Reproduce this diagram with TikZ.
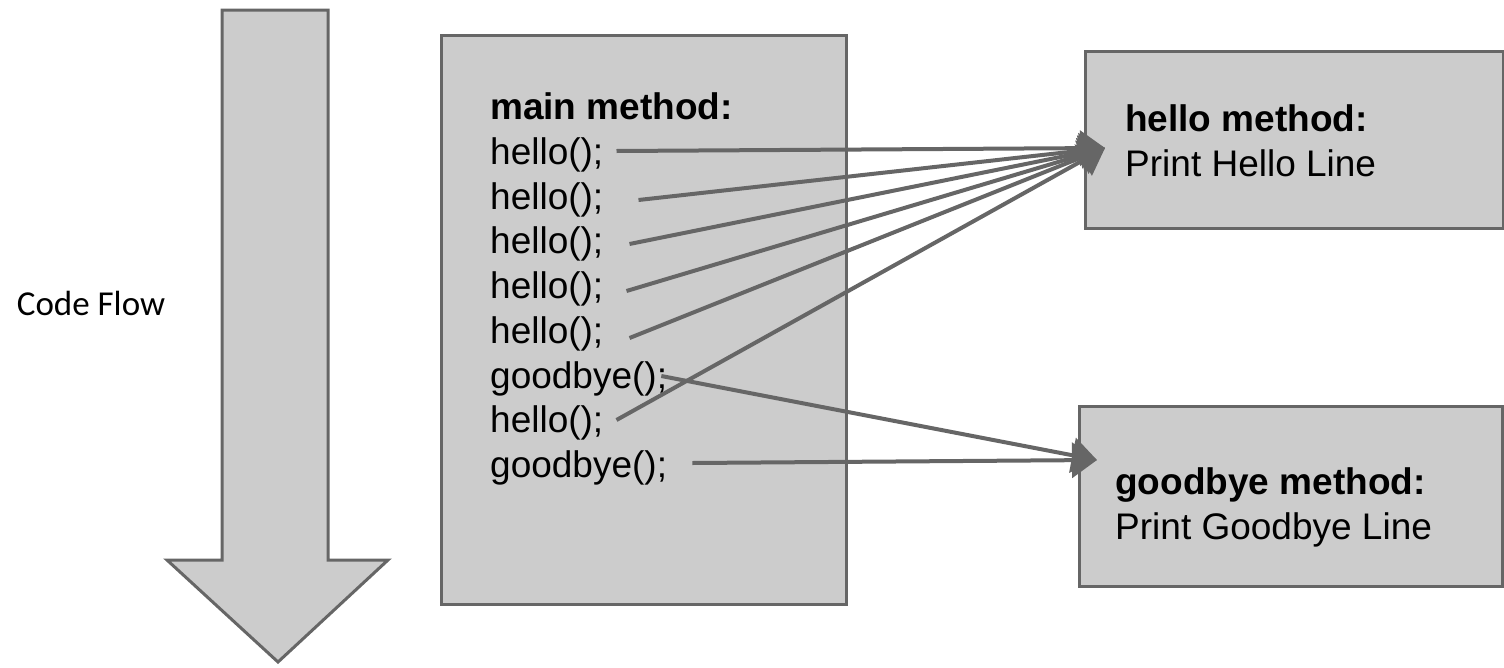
\documentclass[tikz,border=0pt]{standalone}
\usepackage{fontspec}
\setmainfont{Liberation Sans}
\newfontfamily\calibri{Carlito}
\usetikzlibrary{arrows.meta,positioning}

\definecolor{boxfill}{HTML}{CCCCCC}
\definecolor{boxline}{HTML}{666666}

\tikzset{
  box/.style={draw=boxline, fill=boxfill, line width=3pt},
  code/.style={anchor=base west, inner sep=0pt, font=\fontsize{37}{44}\selectfont},
  head/.style={code, font=\fontsize{37}{44}\selectfont\bfseries},
  call/.style={draw=boxline, line width=4pt, -{Triangle[length=25pt,width=35pt]}},
}

\begin{document}
\begin{tikzpicture}[x=1pt, y=-1pt]
  \useasboundingbox (0,0) rectangle (1504,667);

  % Code flow arrow
  \draw[box, line join=miter] (222,10) -- (328,10) -- (328,560) -- (388,560)
    -- (278,662) -- (167,560) -- (222,560) -- cycle;
  \node[font=\calibri\fontsize{35}{42}\selectfont] (flow) at (91,303) {Code Flow};

  % Define nodes
  \node[box, minimum width=405pt, minimum height=569pt] (main) at (643.5,319.5) {};
  \node[box, minimum width=418pt, minimum height=177pt] (hellobox) at (1294,139.5) {};
  \node[box, minimum width=423pt, minimum height=180pt] (byebox) at (1290.5,496) {};

  \node[head] (title) at (490,119) {main method:};
  \node[code] (h1) at (490,164) {hello();};
  \node[code] (h2) at (490,209) {hello();};
  \node[code] (h3) at (490,253) {hello();};
  \node[code] (h4) at (490,298) {hello();};
  \node[code] (h5) at (490,343) {hello();};
  \node[code] (g1) at (490,388) {goodbye();};
  \node[code] (h6) at (490,432) {hello();};
  \node[code] (g2) at (490,477) {goodbye();};

  \node[head] (hellotitle) at (1125,131) {hello method:};
  \node[code] (hellotext) at (1125,176) {Print Hello Line};
  \node[head] (byetitle) at (1115,494) {goodbye method:};
  \node[code] (byetext) at (1115,539) {Print Goodbye Line};

  \coordinate (hin) at (1105,148);
  \coordinate (byein) at (1097,460);
  \coordinate (s1) at ([shift={(13,-13)}]h1.base east);
  \coordinate (s2) at ([shift={(35,-9)}]h2.base east);
  \coordinate (s3) at ([shift={(26,-9)}]h3.base east);
  \coordinate (s4) at ([shift={(23,-7)}]h4.base east);
  \coordinate (s5) at ([shift={(26,-5)}]h5.base east);
  \coordinate (s6) at ([shift={(13,-12)}]h6.base east);
  \coordinate (t1) at ([shift={(-6,-12)}]g1.base east);
  \coordinate (t2) at ([shift={(25,-14)}]g2.base east);

  % Draw edges
  \draw[call] (s1) -- (hin);
  \draw[call] (s2) -- (hin);
  \draw[call] (s3) -- (hin);
  \draw[call] (s4) -- (hin);
  \draw[call] (s5) -- (hin);
  \draw[call] (s6) -- (hin);
  \draw[call] (t1) -- (byein);
  \draw[call] (t2) -- (byein);
\end{tikzpicture}
\end{document}
